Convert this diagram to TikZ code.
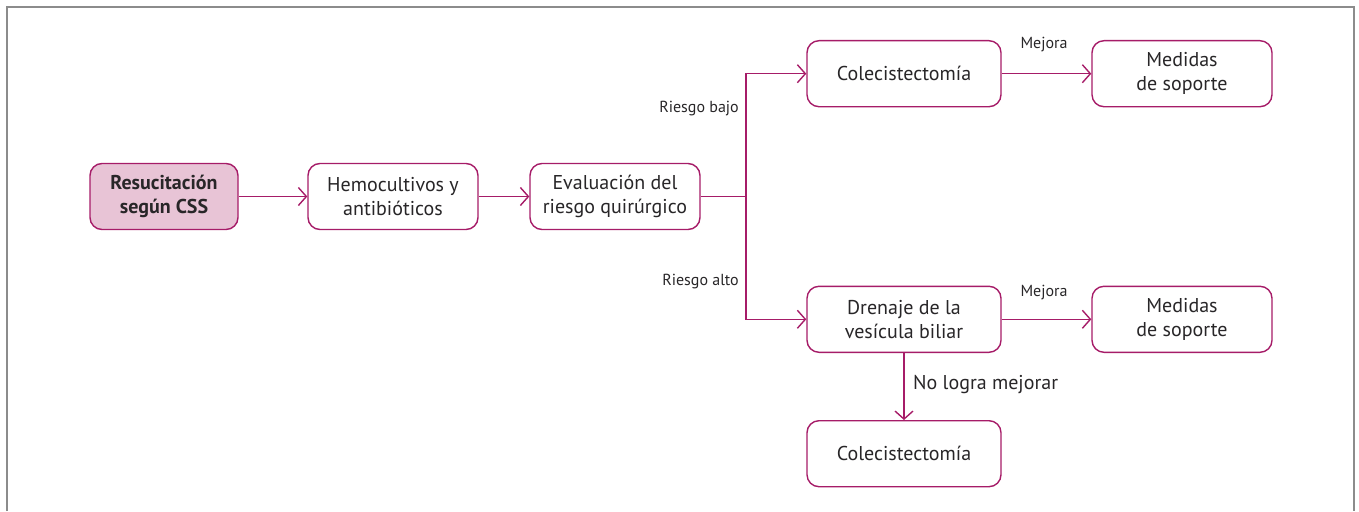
\documentclass[tikz,border=0pt]{standalone}
\usepackage{fontspec}
\setmainfont{PT Sans}
\usetikzlibrary{arrows.meta,calc}
\definecolor{mag}{RGB}{166,28,104}
\definecolor{pinkfill}{RGB}{232,196,214}
\definecolor{txt}{RGB}{40,38,40}
\definecolor{frame}{RGB}{140,140,140}
\tikzset{
  box/.style={draw=mag, line width=1.4pt, rounded corners=12pt, fill=white,
    minimum height=66pt, inner sep=0pt, align=center, text=txt,
    font=\fontsize{20}{24}\selectfont},
  firstbox/.style={box, fill=pinkfill, font=\fontsize{20}{24}\selectfont\bfseries},
  arr/.style={draw=mag, line width=1.4pt, -{Straight Barb[length=8pt,width=18pt,line width=1.4pt]}},
  lbl/.style={text=txt, inner sep=0pt, font=\fontsize{16}{19}\selectfont},
  biglbl/.style={text=txt, inner sep=0pt, font=\fontsize{20}{24}\selectfont},
}
\begin{document}
\begin{tikzpicture}[x=1pt,y=-1pt]
\useasboundingbox (0,0) rectangle (1359,511);
\draw[frame, line width=1.5pt] (7,511) -- (7,7) -- (1354,7) -- (1354,511);

\node[firstbox, minimum width=148pt] (res) at (164,196.5) {Resucitación\\según CSS};
\node[box, minimum width=170pt] (hem) at (393,196.5) {Hemocultivos y\\antibióticos};
\node[box, minimum width=170pt] (eva) at (615,196.5) {Evaluación del\\riesgo quirúrgico};
\node[box, minimum width=194pt] (col1) at (904,73.7) {Colecistectomía};
\node[box, minimum width=180pt] (med1) at (1182,73.7) {Medidas\\de soporte};
\node[box, minimum width=194pt] (dre) at (904,319.3) {Drenaje de la\\vesícula biliar};
\node[box, minimum width=180pt] (med2) at (1182,319.3) {Medidas\\de soporte};
\node[box, minimum width=194pt] (col2) at (904,453.7) {Colecistectomía};

\coordinate (br) at (746,196.5);

\draw[arr] (res) -- (hem);
\draw[arr] (hem) -- (eva);
\draw[draw=mag, line width=1.4pt] (eva) -- (br);
\draw[arr] (br) |- (col1);
\draw[arr] (br) |- (dre);
\draw[arr] (col1) -- (med1);
\draw[arr] (dre) -- (med2);
\draw[arr] (dre) -- (col2);

\node[lbl, anchor=east] (rb) at (739,109) {Riesgo bajo};
\node[lbl, anchor=east] (ra) at (739,282) {Riesgo alto};
\node[lbl] (m1) at (1044,45) {Mejora};
\node[lbl] (m2) at (1044,293) {Mejora};
\node[biglbl, anchor=west] (nl) at (913,385) {No logra mejorar};
\end{tikzpicture}
\end{document}
